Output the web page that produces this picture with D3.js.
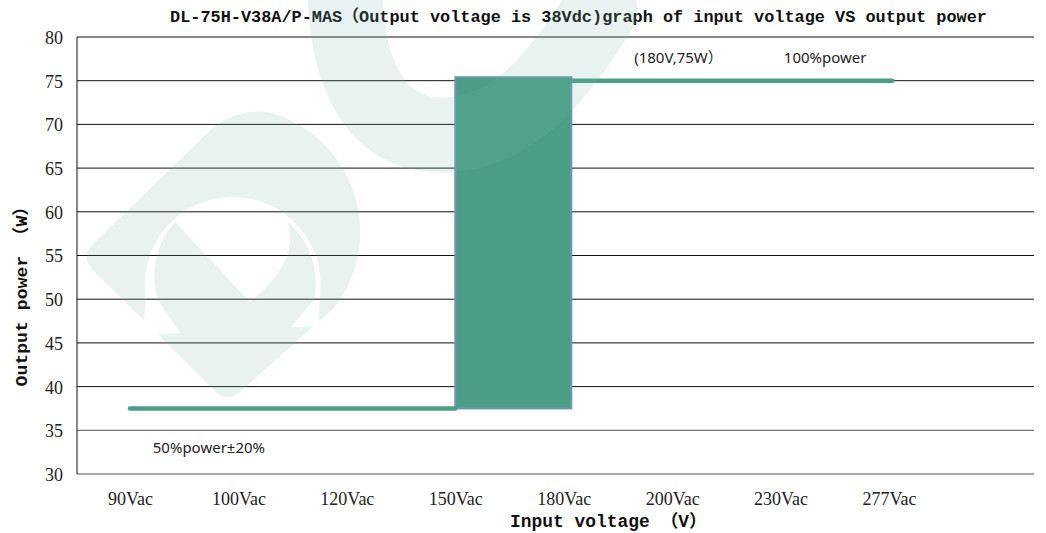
<!DOCTYPE html>
<html>
<head>
<meta charset="utf-8">
<script src="https://cdn.jsdelivr.net/npm/d3@7"></script>
<style>
  body { margin: 0; background: #fff; }
  svg { display: block; }
  .axis-title { font-family: "Liberation Mono", "Noto Sans CJK SC", monospace; font-weight: bold; fill: #111; }
  .note { font-family: "Noto Sans", "Noto Sans CJK SC", sans-serif; font-size: 15px; fill: #222; }
</style>
</head>
<body>
<svg id="chart" width="1046" height="533"></svg>
<script>
// input voltage categories along the bottom
const categories = ["90Vac", "100Vac", "120Vac", "150Vac", "180Vac", "200Vac", "230Vac", "277Vac"];
const yTickValues = [30, 35, 40, 45, 50, 55, 60, 65, 70, 75, 80];

// x given in category index units
const lowPower = [{ x: 0, y: 37.5 }, { x: 3, y: 37.5 }];
const fullPower = [{ x: 4.07, y: 75 }, { x: 7.03, y: 75 }];
const switchBox = { x0: 3, x1: 4.07, y0: 37.5, y1: 75.4 };

const notes = [
  { text: "(180V,75W）", x: 4.65, y: 77.0 },
  { text: "100%power", x: 6.03, y: 77.0 },
  { text: "50%power±20%", x: 0.21, y: 32.4 }
];

const titleText = "DL-75H-V38A/P-MAS（Output voltage is 38Vdc)graph of input voltage VS output power";
const yTitle = "Output power （W）";
const xTitle = "Input voltage （V）";

const green = "#4a9e86";

const svg = d3.select("#chart");
const plot = { left: 77, right: 1034, top: 37, bottom: 474 };

const x = d3.scaleLinear().domain([0, 7]).range([130, 889]);
const y = d3.scaleLinear().domain([30, 80]).range([plot.bottom, plot.top]);

// horizontal grid
svg.append("g").selectAll("line").data(yTickValues)
  .join("line")
  .attr("x1", plot.left).attr("x2", plot.right)
  .attr("y1", d => y(d)).attr("y2", d => y(d))
  .attr("stroke", d => d <= 35 ? "#555" : "#111")
  .attr("stroke-width", 1);

// tick label styling, shared by both axes
function styleTicks(g) {
  g.selectAll("text")
    .style("font-family", '"Liberation Serif", serif')
    .style("font-size", "18px")
    .style("fill", "#222");
}

// y axis
const yAxis = d3.axisLeft(y).tickValues(yTickValues).tickSize(0).tickPadding(14);
const gy = svg.append("g").attr("transform", `translate(${plot.left},0)`).call(yAxis);
gy.select(".domain").attr("stroke", "#111").attr("d", `M0,${plot.top}V${plot.bottom}`);
gy.call(styleTicks);
gy.selectAll("text").attr("dy", "0.36em");

// x axis labels
const xAxis = d3.axisBottom(x).tickValues(d3.range(categories.length))
  .tickFormat(i => categories[i]).tickSize(0).tickPadding(18);
const gx = svg.append("g").attr("transform", `translate(0,${plot.bottom})`).call(xAxis);
gx.select(".domain").remove();
gx.call(styleTicks);

// the 150-180V switching band
svg.append("rect")
  .attr("x", x(switchBox.x0))
  .attr("y", y(switchBox.y1))
  .attr("width", x(switchBox.x1) - x(switchBox.x0))
  .attr("height", y(switchBox.y0) - y(switchBox.y1))
  .attr("fill", green)
  .attr("stroke", "#6f97ad")
  .attr("stroke-width", 2);

const line = d3.line().x(d => x(d.x)).y(d => y(d.y));
[lowPower, fullPower].forEach(seg => {
  svg.append("path").datum(seg)
    .attr("d", line)
    .attr("fill", "none")
    .attr("stroke", green)
    .attr("stroke-width", 4.5)
    .attr("stroke-linecap", "round");
});

// notes
svg.append("g").selectAll("text").data(notes)
  .join("text")
  .attr("class", "note")
  .attr("x", d => x(d.x))
  .attr("y", d => y(d.y))
  .text(d => d.text);

// titles
svg.append("text").attr("class", "axis-title")
  .attr("x", 170).attr("y", 22)
  .attr("font-size", 16.5)
  .attr("textLength", 817).attr("lengthAdjust", "spacingAndGlyphs")
  .text(titleText);

svg.append("text").attr("class", "axis-title")
  .attr("transform", "translate(27,292) rotate(-90)")
  .attr("text-anchor", "middle")
  .attr("font-size", 17)
  .attr("textLength", 189).attr("lengthAdjust", "spacingAndGlyphs")
  .text(yTitle);

svg.append("text").attr("class", "axis-title")
  .attr("x", 510).attr("y", 527)
  .attr("font-size", 17.5)
  .attr("textLength", 197).attr("lengthAdjust", "spacingAndGlyphs")
  .text(xTitle);

// faint logo watermark laid over the chart
const defs = svg.append("defs");
const mask = defs.append("mask").attr("id", "logoCut");
mask.append("rect").attr("width", 1046).attr("height", 533).attr("fill", "white");
mask.append("path").attr("fill", "black")
  .attr("d", "M142,335 L146,300 A88,88 0 1 1 320,296 L318,326 Z");
mask.append("path").attr("fill", "white")
  .attr("d", "M175,222 L250,302 Q300,262 288,222 A80,80 0 0 1 314,300 L236,392 Q228,400 220,392 L158,300 A80,80 0 0 1 175,222 Z");

const wm = svg.append("g").attr("opacity", 0.17).attr("pointer-events", "none");
wm.append("path")
  .attr("d", "M93,270 Q80,257 93,244 L205,135 Q232,108 268,112 A124,124 0 0 1 334,308 L240,392 Q227,403 214,390 Z")
  .attr("fill", "rgb(119,184,174)")
  .attr("mask", "url(#logoCut)");
wm.append("path")
  .attr("d", "M345,-40 C340,80 380,135 440,135 C500,135 545,100 600,10")
  .attr("fill", "none")
  .attr("stroke", "rgb(119,184,174)")
  .attr("stroke-width", 75)
  .attr("stroke-linecap", "round");
</script>
</body>
</html>
